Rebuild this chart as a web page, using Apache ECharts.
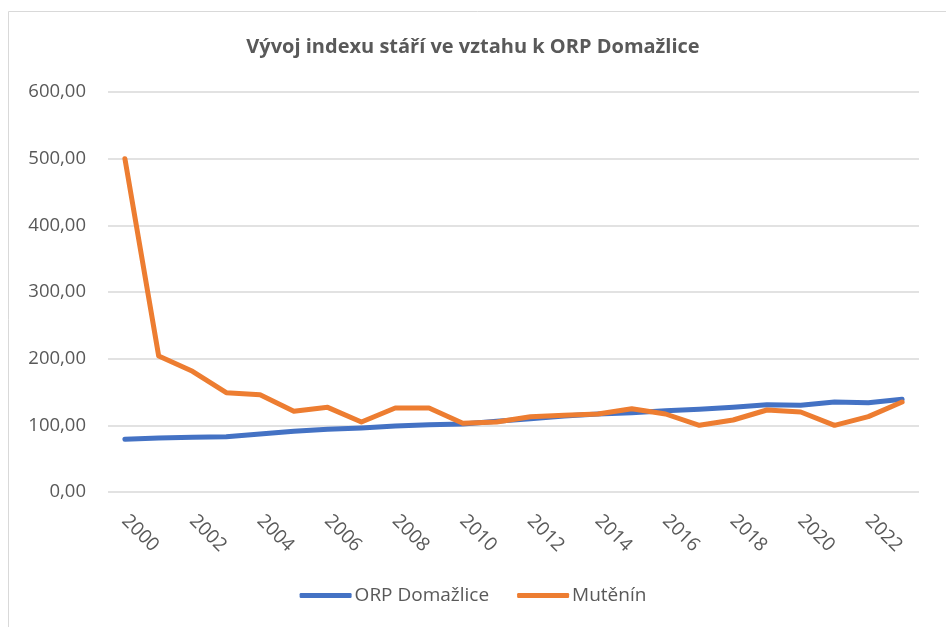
<!DOCTYPE html>
<html>
<head>
<meta charset="utf-8">
<script src="https://cdn.jsdelivr.net/npm/echarts@6/dist/echarts.min.js"></script>
<style>
  html, body { margin: 0; padding: 0; background: #fff; }
  #chart { width: 946px; height: 627px; }
</style>
</head>
<body>
<div id="chart"></div>
<script>
  // roky
  var years = ['2000','2001','2002','2003','2004','2005','2006','2007','2008','2009','2010','2011',
               '2012','2013','2014','2015','2016','2017','2018','2019','2020','2021','2022','2023'];

  // index stari - ORP Domazlice
  var orpDomazlice = [79, 81, 82, 83, 87, 91, 94, 96, 99, 101, 102, 106,
                      110, 114, 117, 119, 122, 124, 127, 131, 130, 135, 134, 139];

  // index stari - Mutenin
  var mutenin = [500, 204, 181, 149, 146, 121, 127, 105, 126, 126, 103, 105,
                 113, 115, 117, 125, 117, 100, 108, 123, 120, 100, 113, 135];

  var yTicks = [0, 100, 200, 300, 400, 500, 600];

  var fontName = '"Open Sans", "Noto Sans", sans-serif';

  //cesky format cisel
  function fmt(v){
    return v.toFixed(2).replace('.', ',');
  }

  var option = {
    animation: false,
    title: {
      text: 'Vývoj indexu stáří ve vztahu k ORP Domažlice',
      left: 'center',
      top: 32,
      textStyle: { fontFamily: fontName, fontSize: 20, fontWeight: 'bold', color: '#595959' }
    },
    graphic: [{
      type: 'rect',
      shape: { x: 8.5, y: 11.5, width: 1000, height: 700 },
      style: { fill: 'none', stroke: '#d9d9d9', lineWidth: 1 },
      silent: true
    }],
    legend: {
      bottom: 17,
      left: 'center',
      itemWidth: 52,
      itemHeight: 5,
      itemGap: 28,
      icon: 'roundRect',
      textStyle: { fontFamily: fontName, fontSize: 19, color: '#595959', padding: [0, 0, 0, -2] },
      data: ['ORP Domažlice', 'Mutěnín']
    },
    grid: { left: 108, right: 27, top: 92, bottom: 135, containLabel: false },
    xAxis: {
      type: 'category',
      data: years,
      boundaryGap: true,
      axisLine: { show: false },
      axisTick: { show: false },
      axisLabel: {
        interval: 1,
        rotate: -45,
        margin: 26,
        fontFamily: fontName,
        fontSize: 19,
        color: '#595959'
      }
    },
    yAxis: {
      type: 'value',
      min: yTicks[0],
      max: yTicks[yTicks.length - 1],
      interval: 100,
      axisLine: { show: false },
      axisTick: { show: false },
      splitLine: { lineStyle: { color: '#d9d9d9', width: 1.5 } },
      axisLabel: {
        margin: 22,
        fontFamily: fontName,
        fontSize: 18.5,
        color: '#595959',
        formatter: fmt
      }
    },
    series: [
      {
        name: 'ORP Domažlice',
        type: 'line',
        data: orpDomazlice,
        showSymbol: false,
        symbol: 'none',
        lineStyle: { color: '#4472C4', width: 5, cap: 'round', join: 'round' },
        itemStyle: { color: '#4472C4' }
      },
      {
        name: 'Mutěnín',
        type: 'line',
        data: mutenin,
        showSymbol: false,
        symbol: 'none',
        lineStyle: { color: '#ED7D31', width: 5, cap: 'round', join: 'round' },
        itemStyle: { color: '#ED7D31' }
      }
    ]
  };

  var myChart = echarts.init(document.getElementById('chart'));
  myChart.setOption(option);
</script>
</body>
</html>
